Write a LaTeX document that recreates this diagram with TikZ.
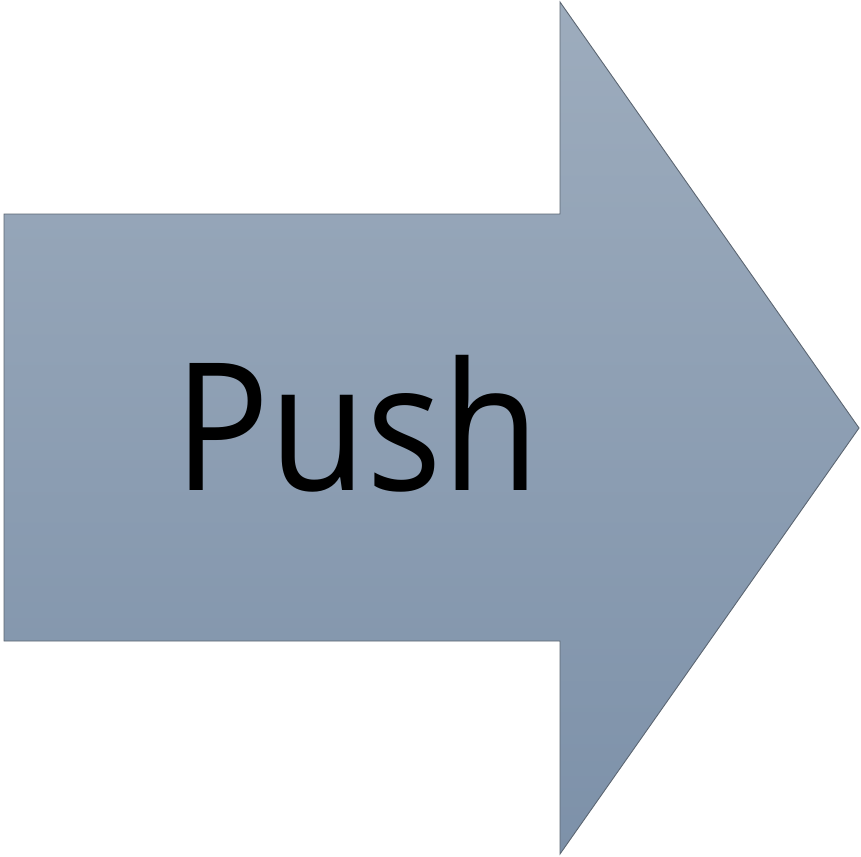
\documentclass[tikz,border=0pt]{standalone}
\usepackage{fontspec}
\setmainfont{Open Sans}
\definecolor{arrtop}{HTML}{9DACBD}
\definecolor{arrbot}{HTML}{7D91A9}
\definecolor{arredge}{HTML}{5C6672}
\begin{document}
\begin{tikzpicture}[x=1pt,y=-1pt,
  arrowshape/.style={top color=arrtop,bottom color=arrbot,draw=arredge,line width=0.9pt,line join=miter},
  label/.style={font=\fontsize{178}{190}\selectfont,text=black,inner sep=0pt,anchor=base}]
\useasboundingbox (0,0) rectangle (861,856);
\shade[arrowshape] (4,214) -- (560,214) -- (560,2) -- (859,428) -- (560,854) -- (560,641) -- (4,641) -- cycle;
\node[label] (push) at (357,490) {\scalebox{0.89}[1]{Push}};
\end{tikzpicture}
\end{document}
